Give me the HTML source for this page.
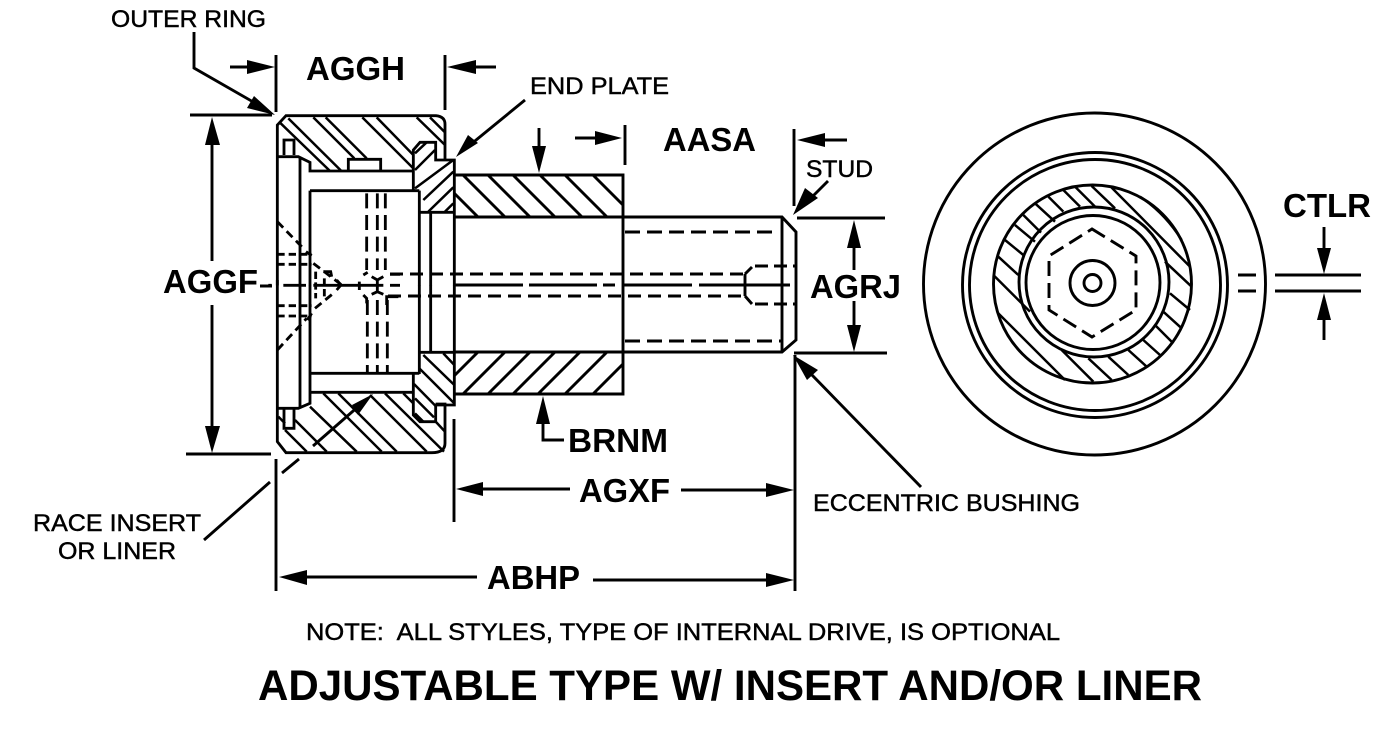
<!DOCTYPE html>
<html lang="en">
<head>
<meta charset="utf-8">
<title>Adjustable Type W/ Insert and/or Liner</title>
<style>
html,body{margin:0;padding:0;background:#fff;width:1384px;height:732px;overflow:hidden}
svg{display:block}
text{font-family:"Liberation Sans",Arial,sans-serif;fill:#000;stroke:none;white-space:pre}
.m{font-size:24px;stroke:#000;stroke-width:.45px}
.b{font-size:33px;font-weight:bold}
.l{fill:none;stroke:#000;stroke-width:2.9;stroke-linejoin:miter;stroke-linecap:butt}
.d{stroke-dasharray:15 7}
.z{fill:none;stroke:#000;stroke-width:8.5}
.h{fill:none;stroke:#000;stroke-width:7.5}
.zd{stroke-dasharray:45 20}
polygon{fill:#000;stroke:none}
</style>
</head>
<body>
<svg width="1384" height="732" viewBox="0 0 1384 732" xmlns="http://www.w3.org/2000/svg">
<rect width="1384" height="732" fill="#fff"/>

<!-- Section: top half (zoom coordinates) -->
<g transform="translate(260,100) scale(0.33333)">
  <path class="z" d="M52,556V75L78,47H528Q555,50 555,72V178"/>
  <path class="z" d="M52,170H115L150,187V213H460M150,272H478M120,170V556M150,272V556"/>
  <path class="z" d="M72,165V120H102V165M265,213V178H362V213"/>
  <path class="z" d="M460,272V150L480,127H527V180H583V556M478,272V556M478,337H583M512,337V556"/>
  <path class="h" d="M62,70L210,213M85,55L243,212M160,52L283,175M197,52L320,175M307,52L460,205M350,52L460,165M470,52L555,135M510,52L555,97"/>
  <path class="h" d="M465,160L500,127M465,210L525,150M465,265L580,180M490,300L580,215M505,335L580,262M555,335L580,310"/>
  <path class="z zd" d="M320,280V510M352,280V510M376,280V510"/>
</g>

<!-- Section: bottom half (zoom coordinates) -->
<g transform="translate(260,280) scale(0.33333)">
  <path class="z" d="M52,0V485L78,518H515Q555,518 555,490V372H527"/>
  <path class="z" d="M52,385H115L150,370V337H460M150,280H478M120,15V385M150,15V337"/>
  <path class="z" d="M72,385V445H102V385"/>
  <path class="z" d="M460,282V405L480,425H527V375H583V15M478,282V15M478,217H583M512,217V15"/>
  <path class="h" d="M150,380L290,515M190,340L365,515M235,340L410,515M330,345L500,515M375,340L552,515M430,340L460,370M105,420L200,515M75,450L140,515M55,410L75,430M527,425L555,455"/>
  <path class="h" d="M490,225L583,315M550,220L583,255M478,265L583,370M462,312L527,378M465,355L522,412M465,400L490,425"/>
  <path class="z zd" d="M322,60V280M352,60V280M382,60V280"/>
</g>

<!-- Centre hidden detail (zoom coordinates) -->
<g transform="translate(270,215) scale(0.33333)">
  <path class="z" d="M-5,211H5M40,211H108M130,211H340M360,211H390"/>
  <path class="z" stroke-dasharray="25 15" d="M22,20L100,100M22,405L110,310M130,145L215,210M135,280L190,235"/>
  <path class="z" stroke-dasharray="22 12" d="M22,118H125M22,148H125M22,272H125M22,303H125"/>
  <path class="z" stroke-dasharray="22 10" d="M137,170V250M163,190V250"/>
  <path class="z" d="M160,170H182L185,185M200,195L213,210L200,225M108,110L125,122M125,295L112,315"/>
  <path class="z" d="M305,185L322,195L340,185M322,195V230M305,238L322,230L340,238M268,200V225M280,240L290,250V265M350,270V245H385M360,178H390M280,180L293,172"/>
</g>

<!-- Stud and bushing -->
<path class="l" d="M454,175H623V394H454M454,217H782L796,232V340L782,352H454M782,217V352"/>
<path class="l" stroke-width="2.6" d="M463,175L505,217M488,175L530,217M513,175L555,217M540,175L582,217M565,175L607,217M593,175L623,205M454,193L478,217"/>
<path class="l" stroke-width="2.6" d="M463,394L505,352M488,394L530,352M513,394L555,352M538,394L580,352M565,394L607,352M593,394L623,364M454,376L478,352"/>
<path class="l d" d="M625,232H775M625,341H782"/>
<path class="l" d="M455,285H523M529,285H597M603,285H615M622,285H692M699,285H790"/>
<path class="l" stroke-dasharray="13 7" d="M390,274H745M388,296H745"/>
<path class="l" d="M745,274V296M745,274L752,267M745,296L752,304"/>
<path class="l" stroke-dasharray="13 6" d="M755,266H795M755,304H795"/>

<!-- End view -->
<g class="l">
  <circle cx="1094.5" cy="284" r="171"/>
  <circle cx="1095" cy="285" r="132.5"/>
  <circle cx="1095" cy="285" r="125.5"/>
  <circle cx="1092.5" cy="284" r="99"/>
  <circle cx="1094" cy="282" r="75"/>
  <circle cx="1093" cy="282.5" r="67"/>
  <circle cx="1092.5" cy="283" r="22.5"/>
  <circle cx="1092.5" cy="283" r="8.5"/>
  <path stroke-dasharray="15 7" d="M1092,229L1136,256V310L1092,337L1049,310V256Z"/>
  <path d="M1238,275H1256M1238,291H1256"/>
</g>
<g transform="translate(915,105) scale(0.33333)">
  <path class="h" d="M480,245L540,305M530,243L600,310M590,248L825,485M750,470L830,545M765,565L825,615M745,620L800,670M720,660L775,715M685,705L735,750M640,735L695,785M580,755L640,810M520,760L590,825M440,735L535,830M250,625L450,825M235,510L345,620M250,455L310,510M270,405L325,450M300,360L360,410M325,330L378,383M360,295L420,350M400,275L445,320M445,255L495,305"/>
  <path class="h" d="M675,275Q750,325 800,405"/>
</g>

<!-- Dimension lines -->
<path class="l" d="M194,32V68L262,107"/>
<polygon points="275,115 254,96 247,108"/>
<path class="l" d="M230,67H250M276,55V112M445,55V110M472,67H496"/>
<polygon points="275,67 247,60 247,74"/>
<polygon points="447,67 476,60 476,74"/>
<path class="l" d="M190,115H272M186,454H271"/>
<path class="l" d="M212,140V261M212,305V430M260,286H272"/>
<polygon points="212,117 205,145 220,145"/>
<polygon points="212,453 205,426 220,426"/>
<path class="l" d="M525,100L470,145"/>
<polygon points="456,157 468,135 478,143"/>
<path class="l" d="M539,128V150M575,138H598M625,125V165M794,129V206M822,140H847"/>
<polygon points="539,173 532,146 546,146"/>
<polygon points="622,138 595,131 595,145"/>
<polygon points="797,140 825,133 825,147"/>
<path class="l" d="M828,181L810,199"/>
<polygon points="793,215 818,198 805,188"/>
<path class="l" d="M797,218H885M794,353H887"/>
<path class="l" d="M854,245V270M854,301V328"/>
<polygon points="854,220 847,248 861,248"/>
<polygon points="854,352 847,325 861,325"/>
<path class="l" d="M921,487L812,375M795,355V591M454,419V522"/>
<polygon points="793,355 818,370 807,380"/>
<path class="l" d="M543,420V440H564"/>
<polygon points="543,396 536,424 550,424"/>
<path class="l" d="M480,489H570M681,490H770"/>
<polygon points="456,489 483,482 483,496"/>
<polygon points="794,490 766,483 766,497"/>
<path class="l" d="M276,459V591M303,577H477M593,580H770"/>
<polygon points="279,577 307,570 307,585"/>
<polygon points="794,580 766,573 766,587"/>
<path class="l" d="M204,540L270,482M282,473L299,459M313,446L360,405"/>
<polygon points="373,394 352,405 358,415"/>
<path class="l" d="M1324,227V250M1275,275H1361M1275,291H1361M1324,316V340"/>
<polygon points="1324,274 1317,248 1331,248"/>
<polygon points="1324,293 1317,320 1331,320"/>

<!-- Labels -->
<text class="m" x="111" y="27" textLength="155" lengthAdjust="spacingAndGlyphs">OUTER RING</text>
<text class="b" x="306" y="80" textLength="99" lengthAdjust="spacingAndGlyphs">AGGH</text>
<text class="m" x="530" y="94" textLength="139" lengthAdjust="spacingAndGlyphs">END PLATE</text>
<text class="b" x="663" y="151" textLength="93" lengthAdjust="spacingAndGlyphs">AASA</text>
<text class="m" x="806" y="177" textLength="67" lengthAdjust="spacingAndGlyphs">STUD</text>
<text class="b" x="1283" y="217" textLength="88" lengthAdjust="spacingAndGlyphs">CTLR</text>
<text class="b" x="163" y="293" textLength="95" lengthAdjust="spacingAndGlyphs">AGGF</text>
<text class="b" x="810" y="298" textLength="91" lengthAdjust="spacingAndGlyphs">AGRJ</text>
<text class="b" x="568" y="452" textLength="100" lengthAdjust="spacingAndGlyphs">BRNM</text>
<text class="b" x="579" y="502" textLength="91" lengthAdjust="spacingAndGlyphs">AGXF</text>
<text class="m" x="813" y="511" textLength="267" lengthAdjust="spacingAndGlyphs">ECCENTRIC BUSHING</text>
<text class="m" x="33" y="531" textLength="168" lengthAdjust="spacingAndGlyphs">RACE INSERT</text>
<text class="m" x="58" y="559" textLength="118" lengthAdjust="spacingAndGlyphs">OR LINER</text>
<text class="b" x="487" y="589" textLength="93" lengthAdjust="spacingAndGlyphs">ABHP</text>
<text class="m" x="306" y="640" textLength="754" lengthAdjust="spacingAndGlyphs">NOTE:  ALL STYLES, TYPE OF INTERNAL DRIVE, IS OPTIONAL</text>
<text x="258" y="700" font-size="43" font-weight="bold" textLength="944" lengthAdjust="spacingAndGlyphs">ADJUSTABLE TYPE W/ INSERT AND/OR LINER</text>
</svg>
</body>
</html>
